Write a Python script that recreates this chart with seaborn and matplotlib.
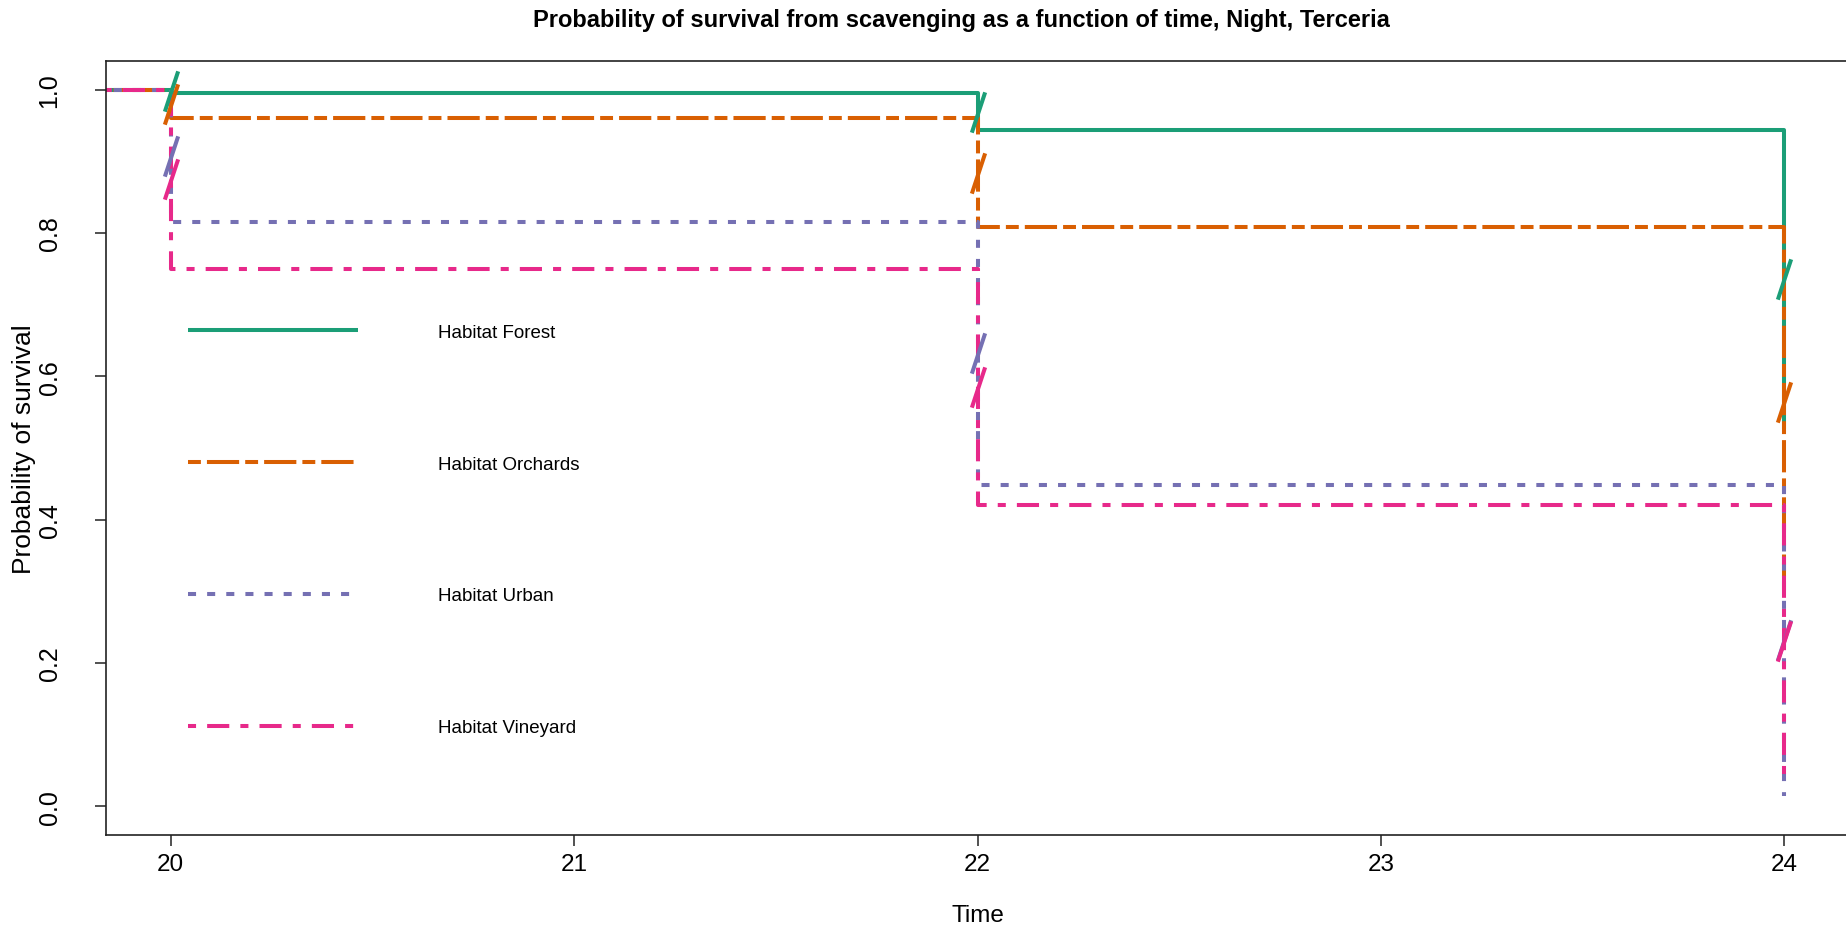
import numpy as np
import pandas as pd
import matplotlib
matplotlib.use("Agg")
import matplotlib.pyplot as plt
from matplotlib.path import Path
import seaborn as sns

# Survival estimates per habitat at each observation time (hours)
times = [18, 20, 22, 24]
habitats = ["Forest", "Orchards", "Urban", "Vineyard"]
surv_forest = [1.0, 0.995, 0.944, 0.527]
surv_orchards = [1.0, 0.960, 0.808, 0.320]
surv_urban = [1.0, 0.815, 0.449, 0.015]
surv_vineyard = [1.0, 0.750, 0.421, 0.041]
mark_times = [20, 22, 24]

x_ticks = [20, 21, 22, 23, 24]
y_ticks = [0.0, 0.2, 0.4, 0.6, 0.8, 1.0]

colors = ["#1B9E77", "#D95F02", "#7570B3", "#E7298A"]
dash_patterns = ["", (3.2, 1.5, 8, 1.5), (2, 2.75), (2, 2.75, 5.5, 2.75)]
labels = ["Habitat " + h for h in habitats]

series = [surv_forest, surv_orchards, surv_urban, surv_vineyard]
df = pd.DataFrame({
    "Time": np.tile(times, len(habitats)),
    "Survival": np.concatenate(series),
    "Habitat": np.repeat(habitats, len(times)),
})

sns.set_style("white")
plt.rcParams["font.family"] = ["Liberation Sans", "DejaVu Sans"]
plt.rcParams["text.color"] = "black"
plt.rcParams["axes.labelcolor"] = "black"
plt.rcParams["xtick.color"] = "black"
plt.rcParams["ytick.color"] = "black"

W, H = 1846, 928
fig = plt.figure(figsize=(W / 100, H / 100), dpi=100)
ax = fig.add_axes([106 / W, 1 - 836 / H, 1743 / W, 774 / H])

lw = 2.9
sns.lineplot(
    data=df, x="Time", y="Survival", hue="Habitat", style="Habitat",
    hue_order=habitats, style_order=habitats,
    palette=dict(zip(habitats, colors)),
    dashes=dict(zip(habitats, dash_patterns)),
    estimator=None, drawstyle="steps-post", linewidth=lw,
    legend=False, ax=ax,
)
for line in ax.lines:
    line.set_solid_capstyle("butt")
    line.set_dash_capstyle("butt")

# slanted tick marks at the midpoint of each drop
slash = Path([(-0.33, -1.0), (0.33, 1.0)], [Path.MOVETO, Path.LINETO])
for s, c in zip(series, colors):
    mx, my = [], []
    for t in mark_times:
        i = times.index(t)
        mx.append(t)
        my.append((s[i - 1] + s[i]) / 2)
    ax.plot(mx, my, linestyle="none", marker=slash, markersize=29,
            markeredgewidth=lw, color=c, mfc="none")

ax.set_xlim(19.84, 24.16)
ax.set_ylim(-0.04, 1.04)
ax.set_xticks(x_ticks)
ax.set_xticklabels([str(v) for v in x_ticks], fontsize=17.5)
ax.set_yticks(y_ticks)
ax.set_yticklabels([f"{v:.1f}" for v in y_ticks], fontsize=18,
                   rotation=90, va="center")

for side in ["left", "bottom", "top"]:
    ax.spines[side].set_visible(True)
    ax.spines[side].set_color("#222222")
    ax.spines[side].set_linewidth(1.2)
ax.spines["right"].set_visible(False)
ax.tick_params(axis="both", direction="out", length=8, width=1.1, color="#222222",
               bottom=True, left=True)
ax.tick_params(axis="x", pad=5)
ax.tick_params(axis="y", pad=24)

ax.set_xlabel("Time", fontsize=17.5)
ax.set_ylabel("Probability of survival", fontsize=19)
ax.xaxis.set_label_coords(0.5, (836 - 916) / 774)
ax.xaxis.label.set_va("center")
ax.yaxis.set_label_coords((24 - 106) / 1743, 0.5)
ax.yaxis.label.set_va("center")

handles = [l for l in ax.lines[:len(habitats)]]
leg_fs = 13.5
leg_px = leg_fs * 100 / 72
ax.legend(handles, labels, loc="upper left",
          bbox_to_anchor=(188 / W, 1 - 324.5 / H), bbox_transform=fig.transFigure,
          frameon=False, fontsize=leg_fs,
          handlelength=170 / leg_px, handletextpad=80 / leg_px,
          labelspacing=6.12, borderpad=0, borderaxespad=0)

fig.text(961 / W, 1 - 20 / H,
         "Probability of survival from scavenging as a function of time, Night, Terceria",
         ha="center", va="center", fontsize=17, weight="bold")

fig.savefig("out.png", dpi=100)
